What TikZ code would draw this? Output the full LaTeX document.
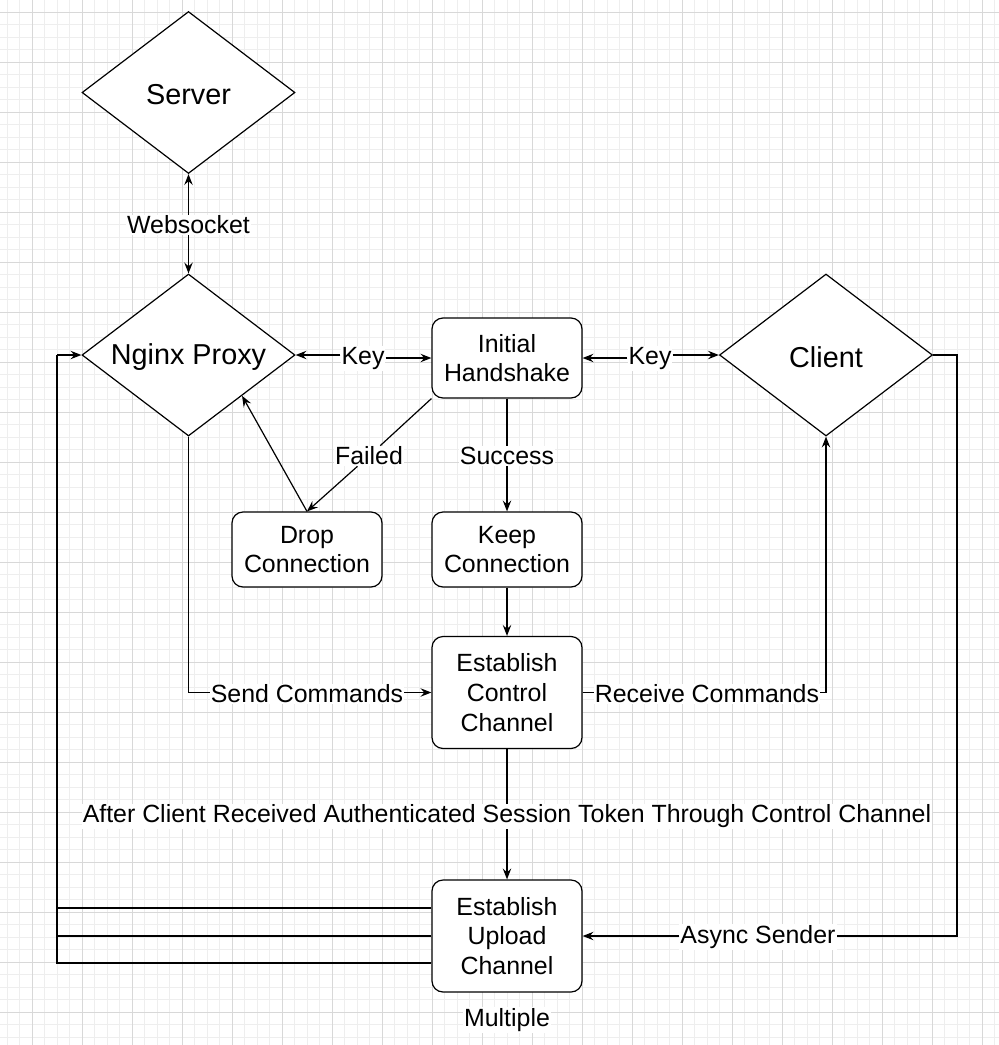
\documentclass[tikz,border=0pt]{standalone}
\usepackage{fontspec}
\setmainfont{Liberation Sans}
\usetikzlibrary{shapes.geometric,arrows.meta}
\definecolor{gridminor}{RGB}{238,238,238}
\definecolor{gridmajor}{RGB}{216,216,216}
\begin{document}
\begin{tikzpicture}[x=1pt,y=-1pt,
  dia/.style={diamond, draw, line width=1.2pt, fill=white, minimum width=213pt, minimum height=162pt, inner sep=0pt},
  diatext/.style={font=\fontsize{28.8}{34}\selectfont, inner sep=0pt},
  box/.style={draw, rounded corners=11pt, line width=1.2pt, fill=white, minimum width=150pt, align=center, inner sep=0pt, font=\fontsize{24.9}{29.6}\selectfont},
  lbl/.style={fill=white, inner sep=1pt, font=\fontsize{24.9}{29.6}\selectfont},
  arr/.style={-{Stealth[length=11pt,width=8.5pt,inset=4pt]}, line width=1.2pt},
  ln/.style={line width=1.2pt}]
\useasboundingbox[fill=white] (0,0) rectangle (999,1045);
% grid
\foreach \i in {0,...,80} {\draw[gridminor, line width=0.8pt] ({7+12.5*\i},0) -- ({7+12.5*\i},1045);}
\foreach \j in {0,...,84} {\draw[gridminor, line width=0.8pt] (0,{-0.5+12.5*\j}) -- (999,{-0.5+12.5*\j});}
\foreach \i in {0,...,20} {\draw[gridmajor, line width=0.8pt] ({32+50*\i},0) -- ({32+50*\i},1045);}
\foreach \j in {0,...,21} {\draw[gridmajor, line width=0.8pt] (0,{12+50*\j}) -- (999,{12+50*\j});}
% shapes
\node[dia] (server) at (188.5,92.5) {};
\node[diatext] (serverT) at (188.5,94.5) {Server};
\node[dia] (nginx) at (188.5,355) {};
\node[diatext] (nginxT) at (188.5,357.5) {Nginx Proxy};
\node[dia] (client) at (826,355) {};
\node[diatext] (clientT) at (826,357) {Client};
\node[box, minimum height=80pt] (hs) at (507,358) {Initial\\Handshake};
\node[box, minimum height=75pt] (drop) at (307,549.5) {Drop\\Connection};
\node[box, minimum height=75pt] (keep) at (507,549.5) {Keep\\Connection};
\node[box, minimum height=112pt] (ctrl) at (507,692.5) {Establish\\Control\\Channel};
\node[box, minimum height=112pt] (upl) at (507,936) {Establish\\Upload\\Channel};
% labels
\node[lbl] (ws) at (188.5,225) {Websocket};
\node[lbl] (keyL) at (363,358.5) {Key};
\node[lbl] (keyR) at (650,358.5) {Key};
\node[lbl] (failed) at (369,456) {Failed};
\node[lbl] (succ) at (507,456) {Success};
\node[lbl] (send) at (307,694) {Send Commands};
\node[lbl] (recv) at (707,694) {Receive Commands};
\node[lbl] (after) at (507,816.5) {After Client Received Authenticated Session Token Through Control Channel};
\node[lbl] (async) at (758,937) {Async Sender};
\node[lbl] (mult) at (507,1020) {Multiple};
% connectors
\draw[arr] (ws) -- (server.south);
\draw[arr] (ws) -- (nginx.north);
\draw[arr] (keyL.west |- nginx.east) -- (nginx.east);
\draw[arr] (keyL.east |- hs.west) -- (hs.west);
\draw[arr] (keyR.west |- hs.east) -- (hs.east);
\draw[arr] (keyR.east |- client.west) -- (client.west);
\draw[ln] (hs.south west) -- (failed);
\draw[arr] (failed) -- (drop.north);
\draw[arr] (drop.north) -- (nginx.south east);
\draw[ln] (hs.south) -- (succ);
\draw[arr] (succ) -- (keep.north);
\draw[arr] (keep) -- (ctrl);
\draw[ln] (ctrl.south) -- (after);
\draw[arr] (after) -- (upl.north);
\draw[ln] (nginx.south) |- (send.west |- ctrl.west);
\draw[arr] (send.east |- ctrl.west) -- (ctrl.west);
\draw[ln] (ctrl.east) -- (recv.west |- ctrl.east);
\draw[arr] (recv.east |- ctrl.east) -| (client.south);
% left loop
\coordinate (L) at (57,355);
\coordinate (u1) at ([shift={(0,-28)}]upl.west);
\coordinate (u3) at ([shift={(0,27)}]upl.west);
\draw[arr] (L) -- (nginx.west);
\draw[ln] (L) -- (L |- u3) -- (u3);
\draw[ln] (u1) -- (u1 -| L);
\draw[ln] (upl.west) -- (upl.west -| L);
% right loop
\coordinate (R) at (957,355);
\draw[ln] (client.east) -- (R) -- (R |- upl.east) -- (async.east |- upl.east);
\draw[arr] (async.west |- upl.east) -- (upl.east);
\end{tikzpicture}
\end{document}
